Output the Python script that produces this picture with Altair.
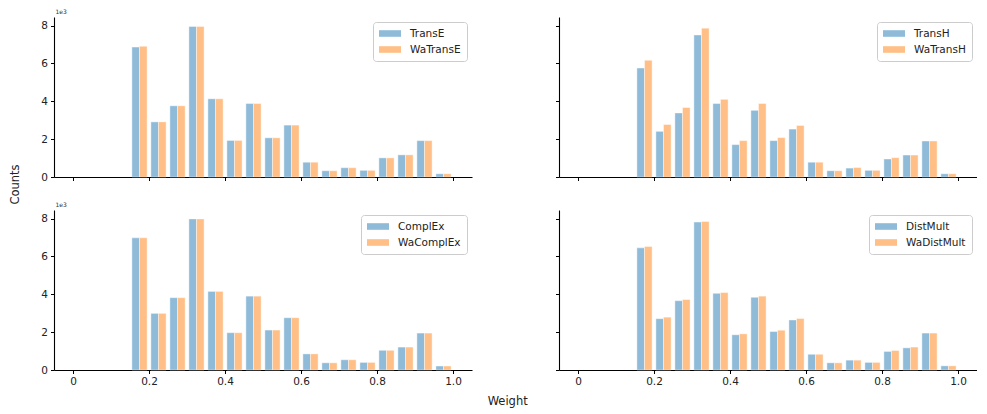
import altair as alt
import pandas as pd

# ---- data (counts in units of 1e3) ----
bin_starts = [0.15, 0.20, 0.25, 0.30, 0.35, 0.40, 0.45, 0.50, 0.55,
              0.60, 0.65, 0.70, 0.75, 0.80, 0.85, 0.90, 0.95]

transe   = [6.86, 2.91, 3.76, 7.95, 4.13, 1.93, 3.88, 2.07, 2.74, 0.78, 0.33, 0.49, 0.35, 1.01, 1.17, 1.92, 0.17]
watranse = [6.90, 2.91, 3.76, 7.95, 4.13, 1.93, 3.88, 2.07, 2.74, 0.78, 0.33, 0.49, 0.35, 1.01, 1.17, 1.92, 0.17]

transh   = [5.75, 2.41, 3.38, 7.50, 3.88, 1.71, 3.52, 1.92, 2.53, 0.78, 0.33, 0.47, 0.35, 0.95, 1.16, 1.90, 0.17]
watransh = [6.16, 2.77, 3.67, 7.86, 4.10, 1.92, 3.88, 2.08, 2.72, 0.78, 0.33, 0.50, 0.35, 1.02, 1.16, 1.90, 0.17]

complex_   = [6.98, 2.99, 3.82, 7.98, 4.15, 1.97, 3.90, 2.11, 2.76, 0.85, 0.38, 0.54, 0.40, 1.04, 1.21, 1.95, 0.21]
wacomplex  = [6.98, 2.99, 3.82, 7.98, 4.15, 1.97, 3.90, 2.11, 2.76, 0.85, 0.38, 0.54, 0.40, 1.04, 1.21, 1.95, 0.21]

distmult   = [6.45, 2.71, 3.66, 7.81, 4.05, 1.86, 3.84, 2.03, 2.64, 0.83, 0.38, 0.52, 0.40, 0.98, 1.17, 1.95, 0.22]
wadistmult = [6.52, 2.79, 3.72, 7.84, 4.09, 1.91, 3.90, 2.10, 2.72, 0.83, 0.38, 0.52, 0.40, 1.03, 1.21, 1.95, 0.22]

x_ticks = [0, 0.2, 0.4, 0.6, 0.8, 1.0]
y_ticks = [0, 2, 4, 6, 8]

COL_A = "#8fbbd9"
COL_B = "#ffbf86"
W, H = 418, 160


def panel(names, a, b, xlabels, ylabels):
    rows = []
    for i, s in enumerate(bin_starts):
        rows.append({"bin": s, "series": names[0], "idx": 0, "count": a[i]})
        rows.append({"bin": s, "series": names[1], "idx": 1, "count": b[i]})
    df = pd.DataFrame(rows)

    xaxis = alt.Axis(values=x_ticks, labels=xlabels, title=None, grid=False,
                     labelExpr="datum.value == 0 ? '0' : format(datum.value, '.1f')")
    if ylabels:
        yaxis = alt.Axis(values=y_ticks, format="d", grid=False, title="1e3",
                         titleAngle=0, titleX=1, titleY=-3, titleAlign="left",
                         titleBaseline="bottom", titleFontSize=6,
                         titleFontWeight="normal", titleColor="#333")
    else:
        yaxis = alt.Axis(values=y_ticks, labels=False, title=None, grid=False)

    return alt.Chart(df).transform_calculate(
        x1="datum.bin + 0.005 + 0.02 * datum.idx",
        x2="datum.bin + 0.025 + 0.02 * datum.idx",
    ).mark_bar(stroke="white", strokeWidth=0.4).encode(
        x=alt.X("x1:Q", scale=alt.Scale(domain=[-0.05, 1.05], nice=False, zero=False), axis=xaxis),
        x2="x2:Q",
        y=alt.Y("count:Q", scale=alt.Scale(domain=[0, 8.45], nice=False), axis=yaxis),
        y2=alt.datum(0),
        color=alt.Color(
            "series:N",
            scale=alt.Scale(domain=names, range=[COL_A, COL_B]),
            sort=names,
            legend=alt.Legend(
                title=None, orient="top-right", offset=5,
                symbolType="M-1,-0.6H3V0.6H-1Z", symbolSize=121,
                symbolStrokeWidth=0, symbolOpacity=1,
                labelFontSize=10.5, labelOffset=20, labelColor="#222",
                fillColor="white", strokeColor="#cccccc", cornerRadius=3,
                padding=6, rowPadding=5,
            ),
        ),
    ).properties(width=W, height=H)


tl = panel(["TransE", "WaTransE"], transe, watranse, False, True)
tr = panel(["TransH", "WaTransH"], transh, watransh, False, False)
bl = panel(["ComplEx", "WaComplEx"], complex_, wacomplex, True, True)
br = panel(["DistMult", "WaDistMult"], distmult, wadistmult, True, False)

row1 = alt.hconcat(tl, tr, spacing=83).resolve_scale(color="independent").resolve_legend(color="independent")
row2 = alt.hconcat(bl, br, spacing=83).resolve_scale(color="independent").resolve_legend(color="independent")

inner = alt.vconcat(
    row1, row2, spacing=18,
    title=alt.TitleParams("Counts", orient="left", anchor="middle", fontSize=11.5,
                          fontWeight="normal", font="DejaVu Sans", color="#222",
                          offset=19, dx=13),
).resolve_scale(color="independent").resolve_legend(color="independent")

chart = alt.hconcat(
    inner,
    title=alt.TitleParams("Weight", orient="bottom", anchor="middle", fontSize=11.5,
                          fontWeight="normal", font="DejaVu Sans", color="#222", offset=9, dx=14),
).resolve_scale(color="independent").resolve_legend(color="independent").configure(
    padding={"left": 2, "top": 0, "right": 0, "bottom": 0}, font="DejaVu Sans"
).configure_view(stroke=None).configure_axis(
    domainColor="#000", domainWidth=1.1, tickColor="#000", tickWidth=1, tickSize=3.5,
    labelFontSize=10.5, labelFont="DejaVu Sans", labelColor="#222", labelPadding=3,
)

chart.save("out.html", embed_options={"renderer": "svg", "actions": False})
